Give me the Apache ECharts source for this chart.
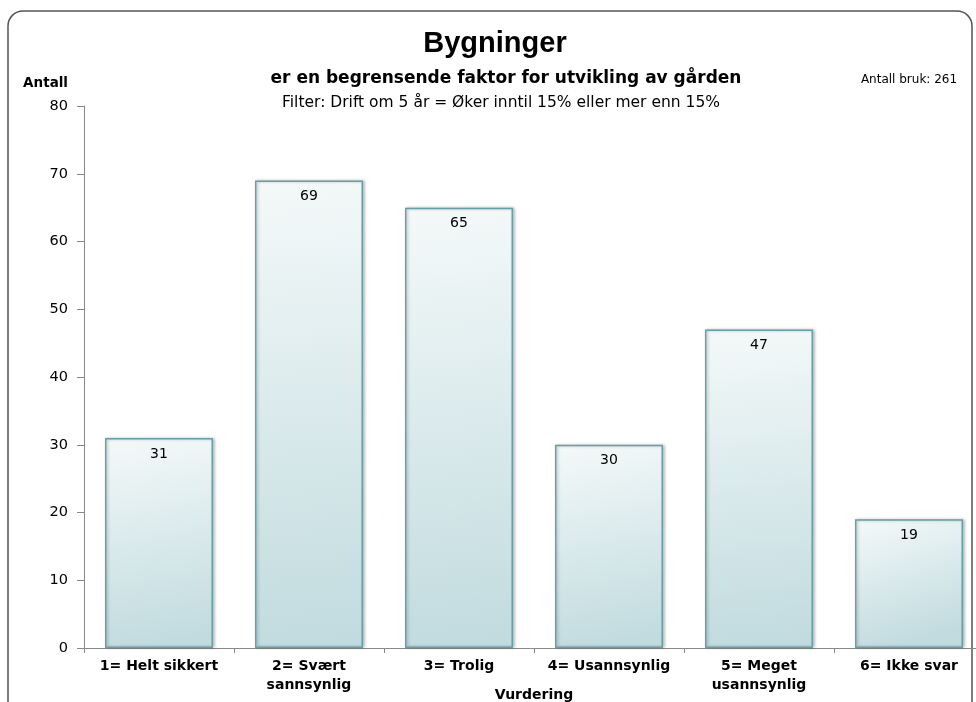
<!DOCTYPE html>
<html>
<head>
<meta charset="utf-8">
<script src="https://cdn.jsdelivr.net/npm/echarts@6/dist/echarts.min.js"></script>
<style>
  html, body { margin: 0; padding: 0; background: #fff; }
  #chart { width: 976px; height: 702px; }
</style>
</head>
<body>
<div id="chart"></div>
<script>
// data
const kategorier = ['1= Helt sikkert', '2= Svært\nsannsynlig', '3= Trolig', '4= Usannsynlig', '5= Meget\nusannsynlig', '6= Ikke svar'];
const antall = [31, 69, 65, 30, 47, 19];
const yMaks = 80;
const yIntervall = 10;

const chart = echarts.init(document.getElementById('chart'));

const font = 'DejaVu Sans, Verdana, sans-serif';

const option = {
    backgroundColor: '#fff',
    animation: false,
    title: [
        {
            text: 'Bygninger',
            left: 490, top: 24, textAlign: 'center',
            textStyle: { fontFamily: 'Liberation Sans, Arial, sans-serif', fontWeight: 'bold', fontSize: 29, color: '#000' }
        },
        {
            text: 'er en begrensende faktor for utvikling av gården',
            left: 501, top: 65, textAlign: 'center',
            textStyle: { fontFamily: font, fontWeight: 'bold', fontSize: 17, color: '#000' }
        },
        {
            text: 'Filter: Drift om 5 år = Øker inntil 15% eller mer enn 15%',
            left: 496, top: 90, textAlign: 'center',
            textStyle: { fontFamily: font, fontWeight: 'normal', fontSize: 15.5, color: '#000' }
        },
        {
            text: 'Antall bruk: 261',
            left: 904, top: 69, textAlign: 'center',
            textStyle: { fontFamily: font, fontWeight: 'normal', fontSize: 12, color: '#000' }
        }
    ],
    graphic: [
        {
            type: 'rect',
            shape: { x: 8, y: 11, width: 964, height: 705, r: 15 },
            style: { fill: 'none', stroke: '#555', lineWidth: 1.5 },
            silent: true
        }
    ],
    grid: { left: 84, right: -8, top: 106, bottom: 54, outerBoundsMode: 'none', containLabel: false },
    xAxis: {
        type: 'category',
        data: kategorier,
        name: 'Vurdering',
        nameLocation: 'middle',
        nameGap: 40,
        nameMoveOverlap: false,
        nameTextStyle: { fontFamily: font, fontWeight: 'bold', fontSize: 14, color: '#000' },
        axisLine: { lineStyle: { color: '#888' } },
        axisTick: { show: true, length: 5, lineStyle: { color: '#888' } },
        axisLabel: { fontFamily: font, fontWeight: 'bold', fontSize: 14, color: '#000', margin: 9, lineHeight: 19, interval: 0 }
    },
    yAxis: {
        type: 'value',
        min: 0, max: yMaks, interval: yIntervall,
        name: 'Antall',
        nameLocation: 'end',
        nameGap: 16,
        nameTextStyle: { fontFamily: font, fontWeight: 'bold', fontSize: 13.5, color: '#000', align: 'right', padding: [0, 16, 0, 0] },
        axisLine: { show: true, lineStyle: { color: '#888' } },
        axisTick: { show: true, length: 7, lineStyle: { color: '#888' } },
        splitLine: { show: false },
        axisLabel: { fontFamily: font, fontSize: 14.5, color: '#000', margin: 16 }
    },
    series: [
        {
            type: 'bar',
            data: antall,
            barCategoryGap: '28%',
            itemStyle: {
                color: new echarts.graphic.LinearGradient(0, 0, 0.35, 1, [
                    { offset: 0, color: '#f4f9f9' },
                    { offset: 1, color: '#c1dbdf' }
                ]),
                borderColor: '#65a0a7',
                borderWidth: 1.5,
                shadowColor: 'rgba(0,0,0,0.25)',
                shadowBlur: 3,
                shadowOffsetX: 1.5,
                shadowOffsetY: 0
            },
            label: {
                show: true,
                position: 'insideTop',
                distance: 9,
                fontFamily: font,
                fontSize: 14,
                color: '#000'
            }
        }
    ]
};

chart.setOption(option);
</script>
</body>
</html>
